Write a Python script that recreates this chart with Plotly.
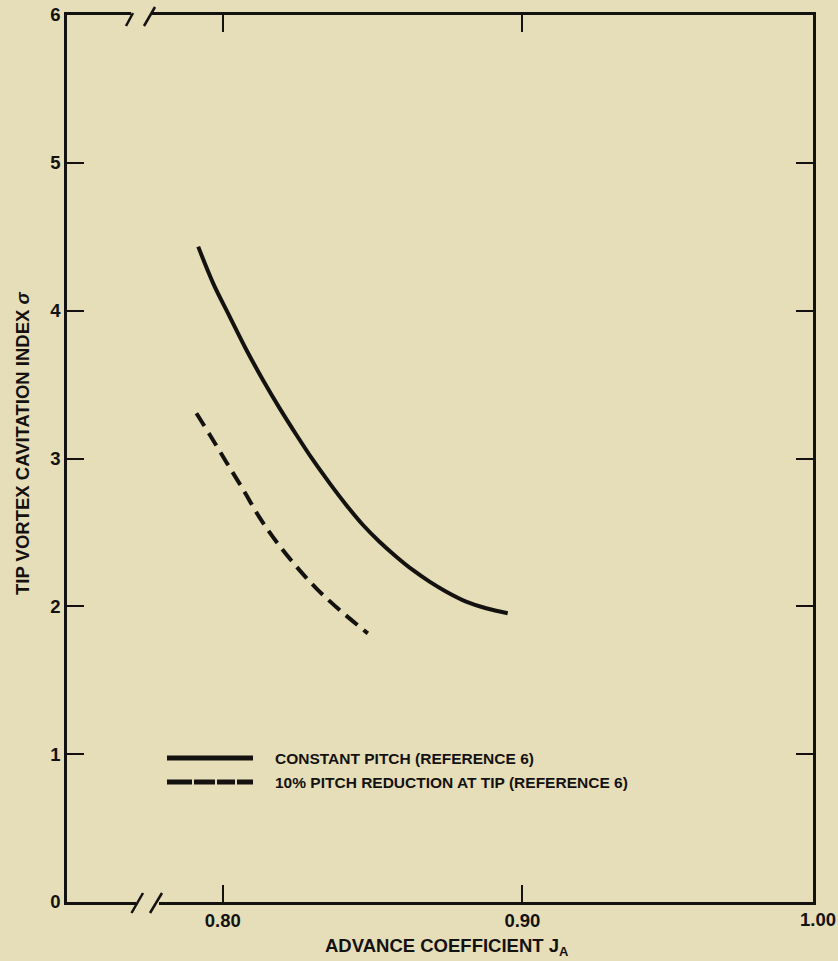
import plotly.graph_objects as go

# Data
j_const = [0.7918, 0.7968, 0.8023, 0.8079, 0.8134, 0.8190, 0.8246, 0.8301, 0.8357,
           0.8412, 0.8468, 0.8523, 0.8579, 0.8634, 0.8690, 0.8746, 0.8812, 0.8879, 0.8951]
s_const = [4.433, 4.185, 3.960, 3.734, 3.531, 3.339, 3.159, 2.990, 2.832,
           2.686, 2.550, 2.437, 2.336, 2.246, 2.167, 2.099, 2.032, 1.987, 1.953]

j_red = [0.7912, 0.7957, 0.8012, 0.8068, 0.8123, 0.8179, 0.8246, 0.8312, 0.8390, 0.8484]
s_red = [3.306, 3.159, 2.975, 2.790, 2.600, 2.437, 2.268, 2.122, 1.975, 1.817]

x_ticks = [0.80, 0.90]
x_ticklabels = ["0.80", "0.90"]
x_end_label = "1.00"
y_ticks = [0, 1, 2, 3, 4, 5, 6]
y_ticklabels = ["0", "1", "2", "3", "4", "5", "6"]

legend_names = ["CONSTANT PITCH (REFERENCE 6)", "10% PITCH REDUCTION AT TIP (REFERENCE 6)"]

BG = "#E6DEB9"
INK = "#141210"
FONT = "Liberation Sans, Arial, Helvetica, sans-serif"

W, H = 838, 961
L, R, T, B = 67, 813, 15, 902


def px(xp):
    return (xp - L) / (R - L)


def py(yp):
    return (B - yp) / (B - T)


fig = go.Figure()
fig.add_trace(go.Scatter(x=j_const, y=s_const, mode="lines", line=dict(color=INK, width=4, shape="spline"),
                         name=legend_names[0], showlegend=False))
fig.add_trace(go.Scatter(x=j_red, y=s_red, mode="lines", line=dict(color=INK, width=4, dash="15px,8px", shape="spline"),
                         name=legend_names[1], showlegend=False))

shapes = []
# axis-break gaps (cover the axis line)
shapes.append(dict(type="rect", xref="paper", yref="paper", x0=px(136), x1=px(159), y0=py(906), y1=py(898),
                   fillcolor=BG, line=dict(width=0), layer="above"))
shapes.append(dict(type="rect", xref="paper", yref="paper", x0=px(131), x1=px(152), y0=py(19), y1=py(11),
                   fillcolor=BG, line=dict(width=0), layer="above"))
# slashes
for (x0, y0, x1, y1) in [(131.5, 913, 143, 893), (150, 913, 162, 893), (126, 26, 133, 13), (144, 26, 155, 7)]:
    shapes.append(dict(type="line", xref="paper", yref="paper", x0=px(x0), y0=py(y0), x1=px(x1), y1=py(y1),
                       line=dict(color=INK, width=2.5), layer="above"))
# legend samples
shapes.append(dict(type="line", xref="paper", yref="paper", x0=px(167), x1=px(253), y0=py(758), y1=py(758),
                   line=dict(color=INK, width=5)))
for (a, b) in [(167, 192), (194, 215), (217, 235), (237, 253)]:
    shapes.append(dict(type="line", xref="paper", yref="paper", x0=px(a), x1=px(b), y0=py(782), y1=py(782),
                       line=dict(color=INK, width=5)))

annotations = []
annotations.append(dict(xref="paper", yref="paper", x=px(273), y=py(758), text=legend_names[0], showarrow=False,
                        xanchor="left", yanchor="middle", font=dict(family=FONT, size=15.5, color=INK, weight="bold")))
annotations.append(dict(xref="paper", yref="paper", x=px(273), y=py(782), text=legend_names[1], showarrow=False,
                        xanchor="left", yanchor="middle", font=dict(family=FONT, size=15.5, color=INK, weight="bold")))
annotations.append(dict(xref="paper", yref="paper", x=px(22), y=py(443), text="TIP VORTEX CAVITATION INDEX <i>σ</i>",
                        showarrow=False, textangle=-90, xanchor="center", yanchor="middle",
                        font=dict(family=FONT, size=18.5, color=INK, weight="bold")))
annotations.append(dict(xref="paper", yref="paper", x=px(323), y=py(947), text="ADVANCE COEFFICIENT J<sub>A</sub>",
                        showarrow=False, xanchor="left", yanchor="middle",
                        font=dict(family=FONT, size=18.5, color=INK, weight="bold")))
annotations.append(dict(xref="paper", yref="paper", x=px(818), y=py(919), text=x_end_label,
                        showarrow=False, xanchor="center", yanchor="middle",
                        font=dict(family=FONT, size=18.5, color=INK, weight="bold")))

fig.update_layout(
    width=W, height=H,
    margin=dict(l=L, r=W - R, t=T, b=H - B, pad=0, autoexpand=False),
    paper_bgcolor=BG, plot_bgcolor=BG,
    showlegend=False,
    shapes=shapes, annotations=annotations,
    font=dict(family=FONT, size=18.5, color=INK, weight="bold"),
)
fig.update_xaxes(range=[0.748, 0.997], tickvals=x_ticks, ticktext=x_ticklabels, ticks="inside", ticklen=17,
                 tickwidth=2, tickcolor=INK, showline=True, linewidth=2.5, linecolor=INK, mirror="ticks",
                 showgrid=False, zeroline=False, fixedrange=True, tickfont=dict(size=18.5), automargin=False)
fig.update_yaxes(range=[0, 6], tickvals=y_ticks, ticktext=y_ticklabels, ticks="inside", ticklen=17,
                 tickwidth=2, tickcolor=INK, showline=True, linewidth=2.5, linecolor=INK, mirror="ticks",
                 showgrid=False, zeroline=False, fixedrange=True, tickfont=dict(size=18.5), automargin=False)

fig.write_html("out.html", config={"displayModeBar": False},
               post_script="document.body.style.margin='0';document.body.style.background='" + BG + "';")
